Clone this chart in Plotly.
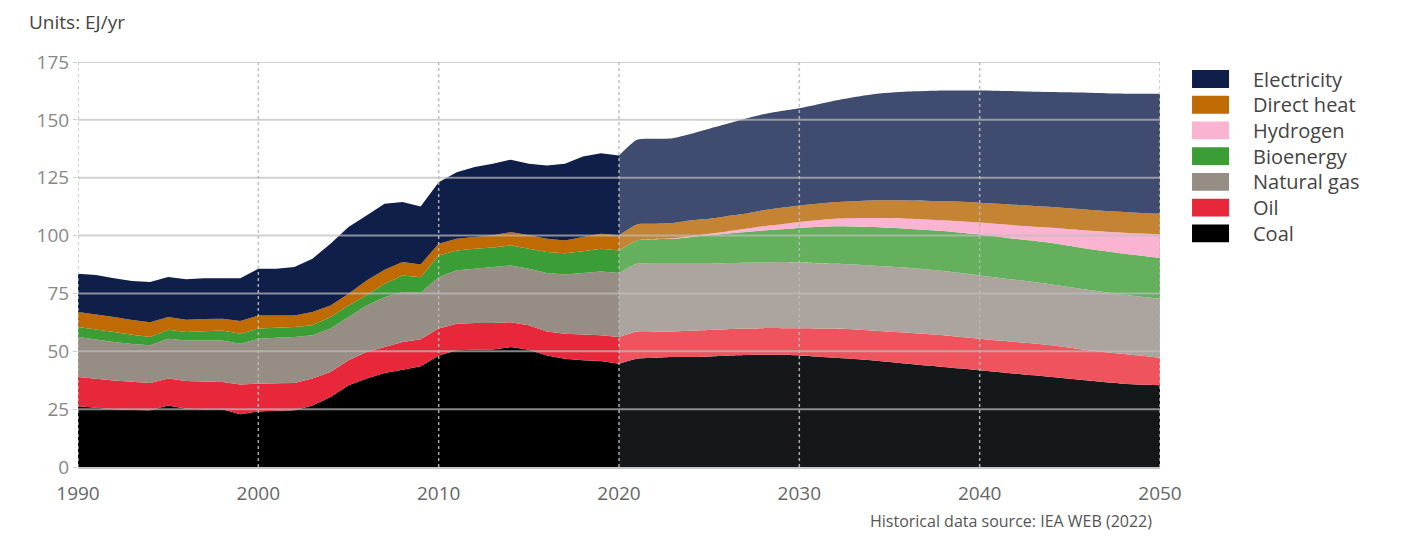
import plotly.graph_objects as go

# ---------------- data (EJ/yr) ----------------
hist_years = list(range(1990, 2021))
hist_coal = [26.2, 25.6, 24.9, 24.6, 24.5, 26.6, 25.2, 25.0, 24.9, 22.8, 24.0, 24.3, 24.5, 26.6, 30.2, 35.3,
             38.2, 40.6, 42.0, 43.5, 48.2, 50.4, 50.7, 50.8, 51.8, 50.7, 48.2, 46.8, 46.1, 45.8, 44.6]
hist_oil = [12.7, 12.5, 12.5, 12.2, 11.8, 11.6, 12.0, 11.9, 11.8, 12.9, 12.0, 11.9, 11.8, 11.6, 10.8, 10.8,
            11.5, 11.2, 12.0, 11.7, 11.6, 11.5, 11.5, 11.4, 10.8, 10.5, 10.4, 10.8, 11.1, 11.1, 11.6]
hist_gas = [17.3, 17.0, 16.6, 16.4, 16.3, 17.2, 17.5, 17.8, 18.0, 17.6, 19.4, 19.6, 19.9, 18.7, 18.8, 18.7,
            20.1, 21.6, 21.6, 20.1, 22.2, 23.1, 23.5, 24.2, 24.5, 24.5, 25.2, 25.6, 26.6, 27.6, 27.6]
hist_bio = [4.3, 4.3, 4.3, 3.9, 3.6, 3.9, 3.6, 4.0, 4.3, 4.3, 4.4, 4.4, 4.3, 4.3, 5.0, 5.0,
            4.4, 5.8, 7.2, 6.7, 9.4, 8.6, 8.6, 8.4, 8.7, 8.6, 9.1, 9.2, 9.4, 9.8, 9.8]
hist_heat = [6.5, 6.5, 6.5, 6.4, 6.4, 5.5, 5.3, 5.3, 5.1, 5.5, 5.7, 5.3, 5.0, 5.8, 5.0, 5.1,
             6.4, 6.0, 5.8, 5.5, 5.1, 5.0, 5.1, 5.3, 5.7, 5.8, 5.7, 5.5, 6.2, 6.5, 6.5]
hist_elec = [16.5, 17.1, 16.8, 16.9, 17.3, 17.3, 17.5, 17.6, 17.5, 18.5, 20.2, 20.2, 20.9, 23.0, 26.7, 28.8,
             28.1, 28.6, 25.9, 25.1, 26.5, 28.8, 30.2, 30.9, 31.3, 30.9, 31.7, 33.1, 34.8, 34.8, 34.5]

proj_years = [2020, 2021, 2022, 2023, 2024, 2025, 2026, 2027, 2028, 2029, 2030,
              2032, 2034, 2036, 2038, 2040, 2042, 2044, 2046, 2048, 2050]
proj_coal = [44.6, 46.8, 47.2, 47.5, 47.5, 47.8, 48.1, 48.4, 48.5, 48.5, 48.2,
             47.2, 46.1, 44.6, 43.2, 41.8, 40.3, 38.9, 37.4, 36.0, 35.3]
proj_oil = [11.6, 11.8, 11.4, 11.1, 11.4, 11.4, 11.4, 11.4, 11.5, 11.5, 11.8,
            12.6, 12.9, 13.4, 13.7, 13.6, 13.7, 13.7, 13.1, 12.8, 11.9]
proj_gas = [27.6, 29.2, 29.2, 29.2, 28.9, 28.6, 28.6, 28.5, 28.4, 28.6, 28.4,
            28.0, 28.1, 28.1, 27.8, 27.4, 26.9, 26.3, 26.1, 25.6, 25.5]
proj_bio = [9.8, 10.1, 10.6, 10.8, 11.6, 12.3, 12.7, 13.2, 13.8, 14.1, 14.9,
            16.2, 16.6, 16.9, 17.3, 17.7, 17.7, 17.9, 17.7, 17.8, 17.6]
proj_h2 = [0.0, 0.0, 0.1, 0.2, 0.4, 0.7, 1.0, 1.4, 1.8, 2.2, 2.6,
           3.3, 3.9, 4.3, 4.6, 5.1, 5.8, 6.6, 7.9, 9.0, 10.2]
proj_heat = [6.5, 6.9, 6.6, 6.6, 6.8, 6.5, 6.6, 6.5, 6.9, 7.1, 7.1,
             7.2, 7.6, 7.9, 8.3, 8.6, 8.9, 8.9, 9.0, 9.0, 8.9]
proj_elec = [34.5, 36.6, 36.7, 36.7, 37.4, 38.9, 39.9, 41.1, 41.5, 41.8, 42.0,
             43.9, 45.8, 47.0, 47.8, 48.5, 49.1, 49.7, 50.5, 51.1, 51.9]

legend_names = ["Electricity", "Direct heat", "Hydrogen", "Bioenergy", "Natural gas", "Oil", "Coal"]
x_ticks = [1990, 2000, 2010, 2020, 2030, 2040, 2050]
y_ticks = [0, 25, 50, 75, 100, 125, 150, 175]

# ---------------- styles ----------------
hist_colors = {"Coal": "#000000", "Oil": "#e8283a", "Natural gas": "#968d84", "Bioenergy": "#3b9d36",
               "Direct heat": "#bf6a02", "Electricity": "#0f1f4a", "Hydrogen": "#fab3d0"}
proj_colors = {"Coal": "#15181b", "Oil": "#ee535e", "Natural gas": "#aca59f", "Bioenergy": "#64b05c",
               "Hydrogen": "#fab3d0", "Direct heat": "#c58433", "Electricity": "#3f4c6f"}
FONT = "Open Sans"

fig = go.Figure()

hist_series = [("Coal", hist_coal), ("Oil", hist_oil), ("Natural gas", hist_gas), ("Bioenergy", hist_bio),
               ("Direct heat", hist_heat), ("Electricity", hist_elec)]
for name, vals in hist_series:
    fig.add_trace(go.Scatter(x=hist_years, y=vals, name=name, stackgroup="hist", mode="none",
                             fillcolor=hist_colors[name], line=dict(width=0), showlegend=False))

proj_series = [("Coal", proj_coal), ("Oil", proj_oil), ("Natural gas", proj_gas), ("Bioenergy", proj_bio),
               ("Hydrogen", proj_h2), ("Direct heat", proj_heat), ("Electricity", proj_elec)]
for name, vals in proj_series:
    fig.add_trace(go.Scatter(x=proj_years, y=vals, name=name, stackgroup="proj", mode="none",
                             fillcolor=proj_colors[name], line=dict(width=0, shape="spline", smoothing=0.6),
                             showlegend=False))

shapes = []
for v in y_ticks[1:]:
    shapes.append(dict(type="line", xref="x", yref="y", x0=x_ticks[0], x1=x_ticks[-1], y0=v, y1=v,
                       line=dict(color="rgba(190,190,190,0.7)", width=2), layer="above"))
for xv in x_ticks:
    shapes.append(dict(type="line", xref="x", yref="y", x0=xv, x1=xv, y0=0, y1=y_ticks[-1],
                       line=dict(color="rgba(185,185,185,0.9)", width=1.5, dash="dot"), layer="above"))

# custom legend (paper coords)
annotations = []
row_h = 0.0635
for i, name in enumerate(legend_names):
    yc = 0.958 - i * row_h
    shapes.append(dict(type="rect", xref="paper", yref="paper", x0=1.0296, x1=1.0638,
                       y0=yc - 0.022, y1=yc + 0.022, fillcolor=hist_colors[name],
                       line=dict(width=0)))
    annotations.append(dict(x=1.084, y=yc, xref="paper", yref="paper", text=name, showarrow=False,
                            xanchor="left", yanchor="middle",
                            font=dict(family=FONT, size=20, color="#444")))

annotations.append(dict(x=-0.047, y=1.099, xref="paper", yref="paper", text="Units: EJ/yr", showarrow=False,
                        xanchor="left", yanchor="middle", font=dict(family=FONT, size=19, color="#444")))
annotations.append(dict(x=0.994, y=-0.134, xref="paper", yref="paper",
                        text="Historical data source: IEA WEB (2022)", showarrow=False,
                        xanchor="right", yanchor="middle", font=dict(family=FONT, size=16, color="#555")))

# page body has an 8px margin: figure is offset by 8px in the screenshot
fig.update_layout(
    width=1386, height=525,
    margin=dict(l=70, r=234, t=54, b=66),
    paper_bgcolor="white", plot_bgcolor="white",
    showlegend=False,
    shapes=shapes, annotations=annotations,
    font=dict(family=FONT, color="#666"),
    xaxis=dict(range=[x_ticks[0], x_ticks[-1]], tickvals=x_ticks, showgrid=False, zeroline=False,
               showline=True, linecolor="#c8c8c8", linewidth=2, ticks="", ticklabelstandoff=8,
               tickfont=dict(size=19, color="#666")),
    yaxis=dict(range=[y_ticks[0], y_ticks[-1]], tickvals=y_ticks, showgrid=False, zeroline=False,
               showline=False, ticks="outside", ticklen=4, tickcolor="#cccccc",
               tickfont=dict(size=19, color="#888")),
)

fig.write_html("out.html")
